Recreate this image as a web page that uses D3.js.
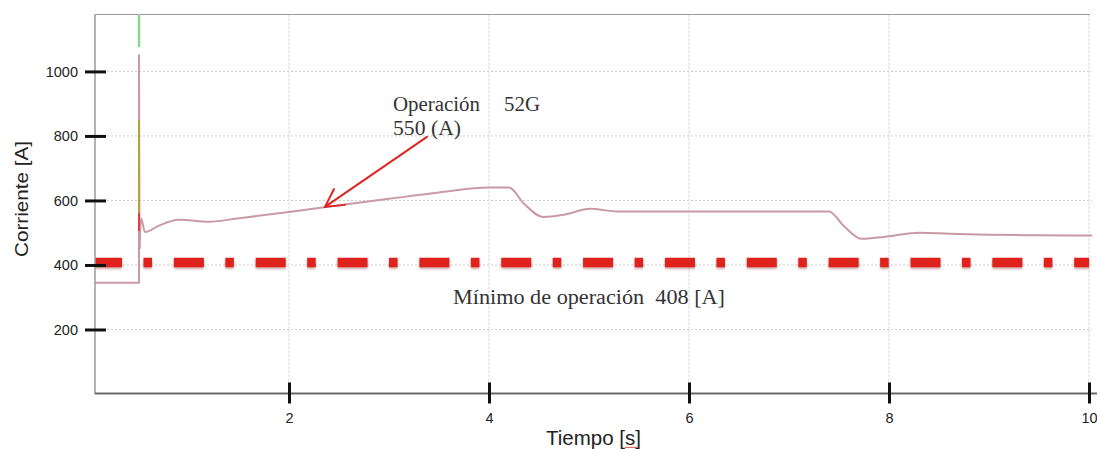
<!DOCTYPE html>
<html>
<head>
<meta charset="utf-8">
<script src="https://cdn.jsdelivr.net/npm/d3@7"></script>
<style>
  html, body { margin: 0; padding: 0; background: #fff; }
  svg { display: block; }
  .tick text { font-family: "Liberation Sans", Arial, sans-serif; font-size: 14.5px; fill: #222; }
</style>
</head>
<body>
<svg id="chart" width="1097" height="449"></svg>
<script>
// Tiempo [s] and corriente [A] of the 52G trace
const tiempo = [0.06, 0.49, 0.5, 0.5, 0.505, 0.52, 0.56, 0.7, 0.9, 1.2, 1.5, 2.0, 2.5, 3.0, 3.5, 4.0, 4.2,
                4.35, 4.54, 4.75, 5.01, 5.28, 5.5, 7.4, 7.55, 7.73, 7.95, 8.31, 8.6, 9.0, 9.5, 10.03];
const corriente = [345, 345, 345, 1050, 450, 545, 502, 522, 540, 534, 545, 564, 585, 605, 625, 640, 640,
                   590, 549, 556, 574, 566, 566, 566, 520, 481, 487, 500, 497, 494, 492, 491];

// Short-lived components at the switching instant
const instante = 0.5;
const picoVerde = [1075, 1200];
const picoOcre = [505, 850];
const picoRojo = [505, 560];

// Operating threshold and annotation
const minimoOperacion = 408;
const puntoOperacion = { t: 2.36, i: 580 };
const origenFlecha = { t: 3.38, i: 797 };

const xTicks = [2, 4, 6, 8, 10];
const yTicks = [200, 400, 600, 800, 1000];

const svg = d3.select("#chart");
const x = d3.scaleLinear().domain([0.06, 10.03]).range([95, 1092]);
const y = d3.scaleLinear().domain([0, 1178]).range([394, 14]);

const defs = svg.append("defs");
defs.append("clipPath").attr("id", "plot")
  .append("rect").attr("x", 95).attr("y", 14).attr("width", 997).attr("height", 380);
const soft = defs.append("filter").attr("id", "soft").attr("filterUnits", "userSpaceOnUse")
  .attr("x", 0).attr("y", 0).attr("width", 1097).attr("height", 449);
soft.append("feGaussianBlur").attr("stdDeviation", 0.5);
const shadow = defs.append("filter").attr("id", "shadow").attr("filterUnits", "userSpaceOnUse")
  .attr("x", 0).attr("y", 0).attr("width", 1097).attr("height", 449);
shadow.append("feDropShadow").attr("dx", 0).attr("dy", 1.5).attr("stdDeviation", 1.2)
  .attr("flood-color", "#7a1010").attr("flood-opacity", 0.4);

// Grid
const grid = svg.append("g");
grid.selectAll(".hg").data(yTicks).join("line")
  .attr("x1", x.range()[0]).attr("x2", x.range()[1])
  .attr("y1", d => y(d)).attr("y2", d => y(d))
  .attr("stroke", "#cbcbcb").attr("stroke-width", 1).attr("stroke-dasharray", "2,2");
grid.selectAll(".vg").data(xTicks).join("line")
  .attr("x1", d => x(d)).attr("x2", d => x(d))
  .attr("y1", y.range()[1]).attr("y2", y.range()[0])
  .attr("stroke", "#e0e0e0").attr("stroke-width", 1.2).attr("stroke-dasharray", "3,1");

// Frame top edge
svg.append("line").attr("x1", 95).attr("x2", 1090).attr("y1", 14.5).attr("y2", 14.5)
  .attr("stroke", "#9a9a9a").attr("stroke-width", 1.2);

const plot = svg.append("g").attr("clip-path", "url(#plot)");

// Threshold line (dash-dot)
plot.append("line")
  .attr("x1", x(0.06)).attr("x2", x(10))
  .attr("y1", y(minimoOperacion)).attr("y2", y(minimoOperacion))
  .attr("stroke", "#e0201f").attr("stroke-width", 9.5)
  .attr("stroke-dasharray", "30,21.5,8.5,21.85").attr("stroke-dashoffset", 3)
  .attr("filter", "url(#shadow)");

// Spike components
const spike = (vals, color, w) => plot.append("line")
  .attr("x1", x(instante)).attr("x2", x(instante))
  .attr("y1", y(vals[0])).attr("y2", y(vals[1]))
  .attr("stroke", color).attr("stroke-width", w).attr("filter", "url(#soft)");

// Main current trace: step and spike drawn straight, recovery drawn smooth
const pts = d3.zip(tiempo, corriente);
const split = tiempo.indexOf(0.505);
const straight = d3.line().x(d => x(d[0])).y(d => y(d[1]));
const smooth = d3.line().x(d => x(d[0])).y(d => y(d[1])).curve(d3.curveMonotoneX);
const traceStyle = sel => sel.attr("fill", "none").attr("stroke", "#c99aa6").attr("stroke-width", 2)
  .attr("stroke-linejoin", "round").attr("filter", "url(#soft)");
plot.append("path").datum(pts.slice(0, split + 1)).attr("d", straight).call(traceStyle);
plot.append("path").datum(pts.slice(split)).attr("d", smooth).call(traceStyle);

spike(picoVerde, "#93d493", 2.5);
spike(picoOcre, "#b8a23a", 2);
spike(picoRojo, "#d9404a", 2);

// Axes
const yAxis = svg.append("g").attr("transform", "translate(95,0)")
  .call(d3.axisLeft(y).tickValues(yTicks).tickSize(10).tickPadding(7).tickFormat(d3.format("d")));
yAxis.select(".domain").attr("d", `M0,${y.range()[1]}V${y.range()[0]}`).attr("stroke", "#9a9a9a").attr("stroke-width", 1.5);
yAxis.selectAll(".tick line").attr("x1", -10).attr("x2", 11).attr("stroke", "#111").attr("stroke-width", 3);

const xAxis = svg.append("g").attr("transform", "translate(0,393.5)")
  .call(d3.axisBottom(x).tickValues(xTicks).tickSize(10).tickPadding(9.5).tickFormat(d3.format("d")));
xAxis.select(".domain").attr("d", `M${x.range()[0]},0H${x.range()[1] + 5}`).attr("stroke", "#6a6a6a").attr("stroke-width", 2.2);
xAxis.selectAll(".tick line").attr("y1", -11).attr("y2", 10).attr("stroke", "#111").attr("stroke-width", 3);

// Axis titles
const sans = "Liberation Sans, Arial, sans-serif";
svg.append("text")
  .attr("transform", "translate(28,199) rotate(-90)")
  .attr("text-anchor", "middle")
  .attr("font-family", sans).attr("font-size", 18.5).attr("fill", "#222")
  .attr("textLength", 116).attr("lengthAdjust", "spacingAndGlyphs")
  .text("Corriente [A]");

const xt = svg.append("text")
  .attr("x", 546).attr("y", 445)
  .attr("font-family", sans).attr("font-size", 19.5).attr("fill", "#222")
  .attr("textLength", 95).attr("lengthAdjust", "spacingAndGlyphs");
xt.text("Tiempo [s]");
// spell-check squiggle under the unit
{
  const node = xt.node();
  const sx = node.getStartPositionOfChar(8).x;
  const ex = node.getEndPositionOfChar(8).x;
  let p = `M${sx},448`;
  for (let k = sx; k < ex; k += 2) p += `L${k + 1},446.8L${k + 2},448`;
  svg.append("path").attr("d", p).attr("fill", "none").attr("stroke", "#d23a3a").attr("stroke-width", 0.8);
}

// Annotations
const serif = "Liberation Serif, Times New Roman, serif";
svg.append("text").attr("x", 393).attr("y", 111).attr("font-family", serif).attr("font-size", 20).attr("fill", "#333")
  .attr("textLength", 87).attr("lengthAdjust", "spacingAndGlyphs").text("Operación");
svg.append("text").attr("x", 504).attr("y", 111).attr("font-family", serif).attr("font-size", 20).attr("fill", "#333")
  .attr("textLength", 36).attr("lengthAdjust", "spacingAndGlyphs").text("52G");
svg.append("text").attr("x", 393).attr("y", 135).attr("font-family", serif).attr("font-size", 20).attr("fill", "#333")
  .attr("textLength", 68).attr("lengthAdjust", "spacingAndGlyphs").text("550 (A)");
svg.append("text").attr("x", 453).attr("y", 304).attr("font-family", serif).attr("font-size", 20).attr("fill", "#333")
  .attr("textLength", 272).attr("lengthAdjust", "spacingAndGlyphs").text("Mínimo de operación\u00a0\u00a0408 [A]");

// Arrow to the operating point
{
  const x0 = x(origenFlecha.t), y0 = y(origenFlecha.i);
  const x1 = x(puntoOperacion.t), y1 = y(puntoOperacion.i);
  const ang = Math.atan2(y0 - y1, x0 - x1);
  const L = 20, spread = 0.5;
  const a1 = [x1 + L * Math.cos(ang - spread), y1 + L * Math.sin(ang - spread)];
  const a2 = [x1 + L * Math.cos(ang + spread), y1 + L * Math.sin(ang + spread)];
  const g = svg.append("g").attr("stroke", "#e02525").attr("stroke-width", 2).attr("fill", "none")
    .attr("stroke-linecap", "round");
  g.append("line").attr("x1", x0).attr("y1", y0).attr("x2", x1).attr("y2", y1);
  g.append("path").attr("d", `M${a1[0]},${a1[1]}L${x1},${y1}L${a2[0]},${a2[1]}`);
}
</script>
</body>
</html>
